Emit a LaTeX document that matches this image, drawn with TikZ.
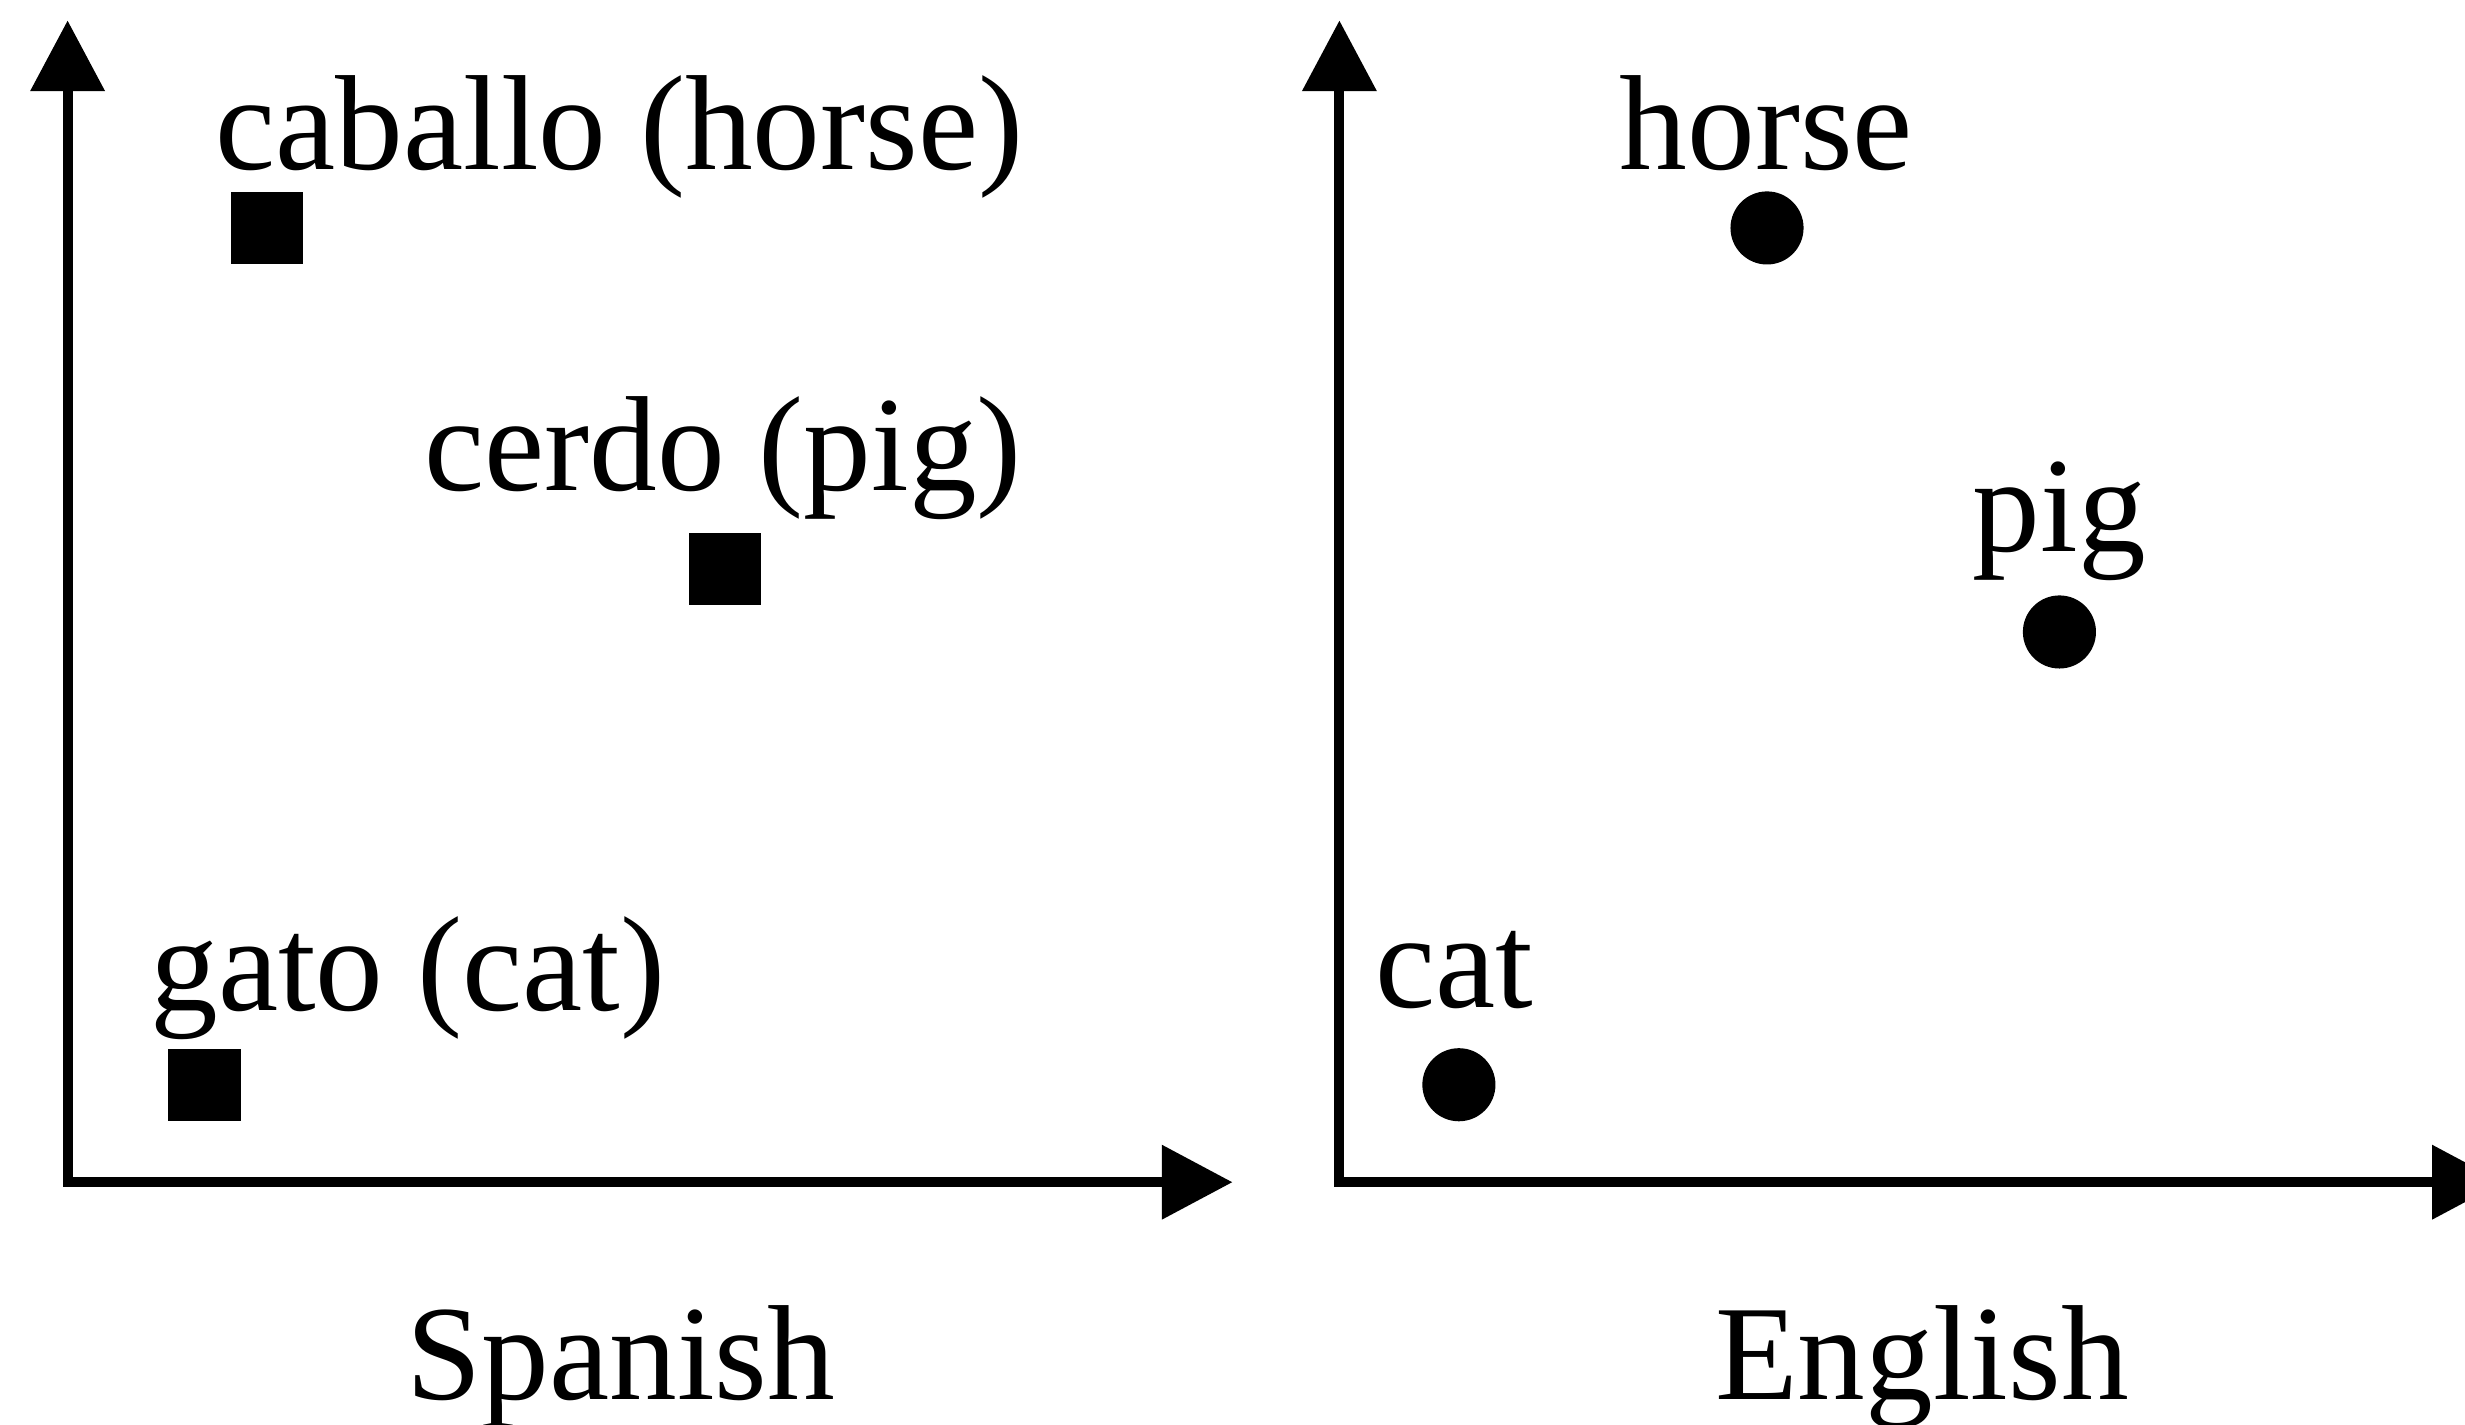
\documentclass[tikz,border=0pt]{standalone}
\usepackage{fontspec}
\setmainfont{Liberation Serif}
\usepackage{tikz}
\usetikzlibrary{arrows.meta, positioning}
\usepackage{xcolor}
\definecolor{axisblack}{RGB}{0, 0, 0}

\begin{document}
\begin{tikzpicture}[
    axisline/.style={line width=1.8pt, axisblack, {Triangle[length=0.45cm, width=0.46cm]}-{Triangle[length=0.45cm, width=0.46cm]}},
    sqpoint/.style={rectangle, fill=axisblack, minimum size=0.46cm, inner sep=0pt},
    dotpoint/.style={circle, fill=axisblack, minimum size=0.465cm, inner sep=0pt},
    wordlabel/.style={anchor=base, inner sep=0pt, font=\fontsize{24.5}{29}\selectfont}
]
    \useasboundingbox (0,0) rectangle (15.68,9.06);
    \clip (0,0) rectangle (15.68,9.06);

    % Spanish space
    \coordinate (esorigin) at (0.43,1.54);
    \coordinate (esytip) at (0.43,8.93);
    \coordinate (esxtip) at (7.84,1.54);
    \draw[axisline] (esytip) -- (esorigin) -- (esxtip);

    \node[sqpoint] (caballo) at (1.70,7.61) {};
    \node[sqpoint] (cerdo) at (4.61,5.44) {};
    \node[sqpoint] (gato) at (1.30,2.16) {};
    \node[wordlabel] (caballolabel) at (3.94,7.98) {caballo (horse)};
    \node[wordlabel] (cerdolabel) at (4.60,5.94) {cerdo (pig)};
    \node[wordlabel] (gatolabel) at (2.595,2.63) {gato (cat)};
    \node[wordlabel] (spanish) at (3.95,0.16) {Spanish};

    % English space
    \coordinate (enorigin) at (8.52,1.54);
    \coordinate (enytip) at (8.52,8.93);
    \coordinate (enxtip) at (15.92,1.54);
    \draw[axisline] (enytip) -- (enorigin) -- (enxtip);

    \node[dotpoint] (horse) at (11.24,7.61) {};
    \node[dotpoint] (pig) at (13.10,5.04) {};
    \node[dotpoint] (cat) at (9.28,2.16) {};
    \node[wordlabel] (horselabel) at (11.235,7.98) {horse};
    \node[wordlabel] (piglabel) at (13.10,5.55) {pig};
    \node[wordlabel] (catlabel) at (9.25,2.65) {cat};
    \node[wordlabel] (english) at (12.225,0.16) {English};
\end{tikzpicture}
\end{document}
